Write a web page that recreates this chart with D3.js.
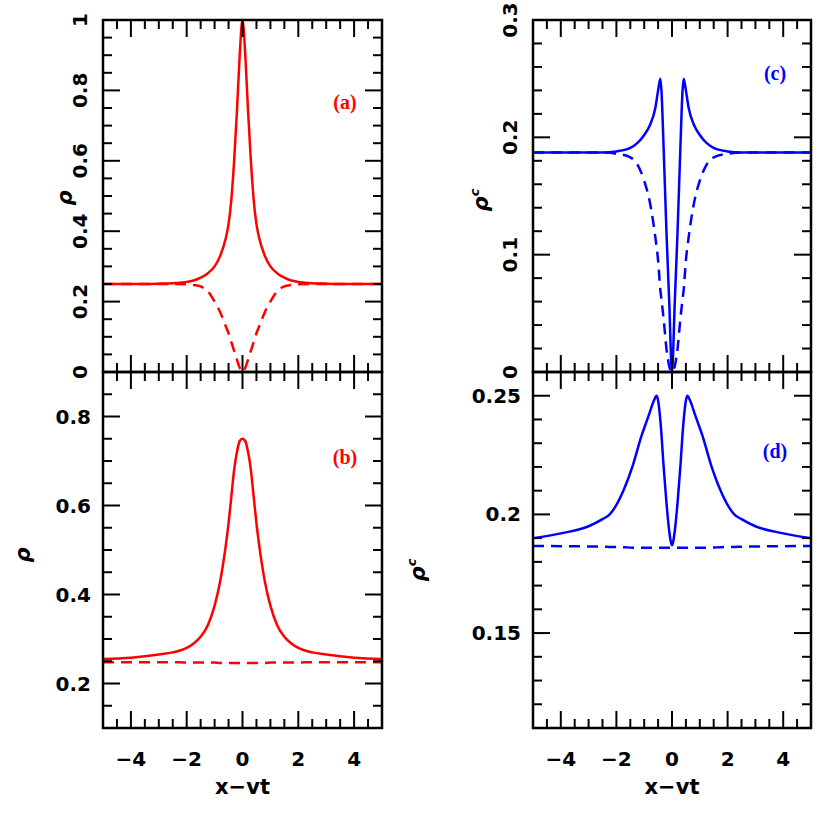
<!DOCTYPE html>
<html><head><meta charset="utf-8">
<script src="https://cdn.jsdelivr.net/npm/d3@7"></script>
<style>body{margin:0;background:#fff}</style>
</head><body>
<script>
// right half (x >= 0) of each symmetric profile; mirrored below
const xA = [0,0.1,0.2,0.3,0.4,0.5,0.6,0.8,1,1.25,1.5,1.75,2,2.5,3,4,5];
const aSolid = [1.0,0.90,0.74,0.60,0.49,0.42,0.38,0.33,0.30,0.28,0.268,0.26,0.256,0.252,0.251,0.25,0.25];
const aDash = [0,0.012,0.035,0.06,0.085,0.11,0.13,0.17,0.2,0.23,0.243,0.247,0.249,0.25,0.25,0.25,0.25];

const xB = [0,0.1,0.2,0.3,0.4,0.5,0.6,0.8,1,1.25,1.5,1.75,2,2.5,3,4,5];
const bSolid = [0.75,0.745,0.72,0.68,0.62,0.56,0.51,0.43,0.375,0.33,0.305,0.29,0.28,0.27,0.265,0.258,0.255];
const bDash = [0.246,0.246,0.246,0.246,0.246,0.246,0.246,0.246,0.247,0.247,0.247,0.247,0.247,0.248,0.248,0.248,0.248];

const xC = [0,0.1,0.2,0.3,0.38,0.42,0.5,0.6,0.8,1,1.25,1.5,2,2.5,3,4,5];
const cSolid = [0,0.06,0.12,0.19,0.24,0.25,0.24,0.225,0.21,0.202,0.195,0.191,0.188,0.187,0.187,0.187,0.187];
const cDash = [0,0.005,0.02,0.045,0.062,0.07,0.095,0.115,0.145,0.163,0.177,0.183,0.186,0.187,0.187,0.187,0.187];

const xD = [0,0.1,0.2,0.3,0.4,0.5,0.55,0.65,0.8,0.92,1.1,1.4,1.75,2.24,2.5,3,4,5];
const dSolid = [0.187,0.193,0.205,0.22,0.237,0.248,0.25,0.248,0.243,0.239,0.233,0.221,0.21,0.2,0.198,0.195,0.192,0.19];
const dDash = [0.186,0.186,0.186,0.186,0.186,0.186,0.186,0.186,0.186,0.186,0.186,0.186,0.1862,0.1863,0.1864,0.1865,0.1866,0.1867];

const xTicks = [-4,-2,0,2,4];

function mirror(xs, ys) {
  const pts = xs.map((x, i) => [x, ys[i]]);
  const left = pts.filter(p => p[0] > 0).map(p => [-p[0], p[1]]).reverse();
  return left.concat(pts);
}

const W = 830, H = 830;
const svg = d3.select("body").append("svg").attr("width", W).attr("height", H)
  .style("font-family", "DejaVu Sans").style("font-weight", "bold");

function panel(o) {
  const x = d3.scaleLinear().domain([-5, 5]).range([o.x0, o.x1]);
  const y = d3.scaleLinear().domain(o.ydom).range([o.y1, o.y0]);
  const g = svg.append("g");

  const line = d3.line().x(d => x(d[0])).y(d => y(d[1])).curve(d3.curveMonotoneX);
  g.append("path").datum(mirror(o.xs, o.solid)).attr("d", line)
    .attr("fill", "none").attr("stroke", o.color).attr("stroke-width", 2.5);
  g.append("path").datum(mirror(o.xs, o.dash)).attr("d", line)
    .attr("fill", "none").attr("stroke", o.color).attr("stroke-width", 2.5)
    .attr("stroke-dasharray", "11,7");

  // ticks on all four sides, pointing inward
  const minorX = d3.range(-5, 5.01, 0.5);
  minorX.forEach(v => {
    const len = Math.abs(v % 2) < 1e-9 ? 17 : 9;
    g.append("line").attr("x1", x(v)).attr("x2", x(v)).attr("y1", o.y1).attr("y2", o.y1 - len).attr("stroke", "#000").attr("stroke-width", 2);
    g.append("line").attr("x1", x(v)).attr("x2", x(v)).attr("y1", o.y0).attr("y2", o.y0 + len).attr("stroke", "#000").attr("stroke-width", 2);
  });
  const n = Math.round((o.ydom[1] - o.ydom[0]) / o.minor);
  for (let i = 0; i <= n + 1; i++) {
    const v = o.minorStart + i * o.minor;
    if (v > o.ydom[1] + 1e-9) break;
    const isMajor = o.majors.some(m => Math.abs(m - v) < 1e-9);
    const len = isMajor ? 17 : 9;
    g.append("line").attr("x1", o.x0).attr("x2", o.x0 + len).attr("y1", y(v)).attr("y2", y(v)).attr("stroke", "#000").attr("stroke-width", 2);
    g.append("line").attr("x1", o.x1).attr("x2", o.x1 - len).attr("y1", y(v)).attr("y2", y(v)).attr("stroke", "#000").attr("stroke-width", 2);
  }
  g.append("rect").attr("x", o.x0).attr("y", o.y0).attr("width", o.x1 - o.x0).attr("height", o.y1 - o.y0)
    .attr("fill", "none").attr("stroke", "#000").attr("stroke-width", 2.5);

  // y tick labels
  o.majors.forEach((m, i) => {
    const t = o.labels[i];
    if (o.rotLabels) {
      g.append("text").attr("transform", `translate(${o.x0 - 16},${y(m)}) rotate(-90)`)
        .attr("text-anchor", "middle").attr("font-size", 20).text(t);
    } else {
      g.append("text").attr("x", o.x0 - 12).attr("y", y(m) + 7).attr("text-anchor", "end")
        .attr("font-size", 20).text(t);
    }
  });

  if (o.bottom) {
    xTicks.forEach(v => {
      g.append("text").attr("x", x(v)).attr("y", o.y1 + 38).attr("text-anchor", "middle")
        .attr("font-size", 20).text(v < 0 ? "\u2212" + (-v) : v);
    });
    g.append("text").attr("x", x(0)).attr("y", o.y1 + 66).attr("text-anchor", "middle")
      .attr("font-size", 21).text("x\u2212vt");
  }

  const yl = g.append("text").attr("transform", `translate(${o.ylab[0]},${o.ylab[1]}) rotate(-90)`)
    .attr("text-anchor", "middle").attr("font-size", 21).attr("font-style", "italic");
  yl.append("tspan").text("\u03c1");
  if (o.sup) yl.append("tspan").attr("font-size", 13).attr("dy", -9).text("c");

  g.append("text").attr("x", o.tag[0]).attr("y", o.tag[1]).attr("text-anchor", "middle")
    .attr("fill", o.color).attr("font-size", 20).attr("font-family", "Liberation Serif").text(o.name);
}

const red = "#ff0000", blue = "#0000ff";
panel({name: "(a)", x0: 103, x1: 382, y0: 20, y1: 372, ydom: [0, 1], minor: 0.05, minorStart: 0,
  majors: [0, 0.2, 0.4, 0.6, 0.8, 1], labels: ["0", "0.2", "0.4", "0.6", "0.8", "1"], rotLabels: true,
  xs: xA, solid: aSolid, dash: aDash, color: red, tag: [345, 109], ylab: [72, 198], sup: false, bottom: false});
panel({name: "(b)", x0: 103, x1: 382, y0: 372, y1: 728, ydom: [0.1, 0.9], minor: 0.05, minorStart: 0.1,
  majors: [0.2, 0.4, 0.6, 0.8], labels: ["0.2", "0.4", "0.6", "0.8"], rotLabels: false,
  xs: xB, solid: bSolid, dash: bDash, color: red, tag: [345, 464], ylab: [30, 555], sup: false, bottom: true});
panel({name: "(c)", x0: 533, x1: 811, y0: 20, y1: 372, ydom: [0, 0.3], minor: 0.02, minorStart: 0,
  majors: [0, 0.1, 0.2, 0.3], labels: ["0", "0.1", "0.2", "0.3"], rotLabels: true,
  xs: xC, solid: cSolid, dash: cDash, color: blue, tag: [775, 80], ylab: [488, 200], sup: true, bottom: false});
panel({name: "(d)", x0: 533, x1: 811, y0: 372, y1: 728, ydom: [0.11, 0.26], minor: 0.01, minorStart: 0.11,
  majors: [0.15, 0.2, 0.25], labels: ["0.15", "0.2", "0.25"], rotLabels: false,
  xs: xD, solid: dSolid, dash: dDash, color: blue, tag: [775, 458], ylab: [425, 570], sup: true, bottom: true});
</script>
</body></html>
